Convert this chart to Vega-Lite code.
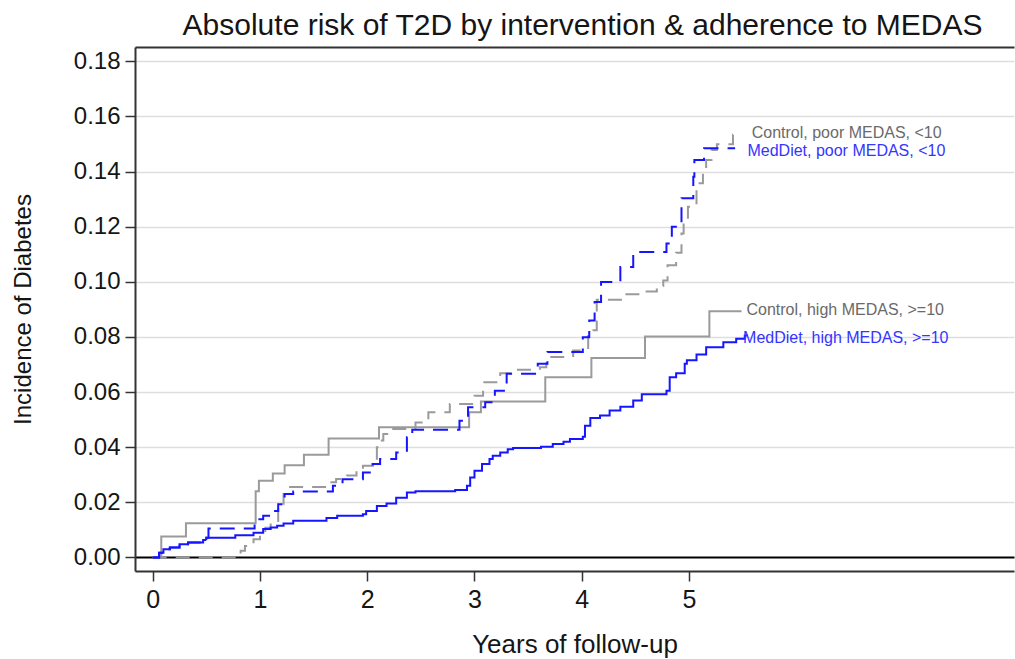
{
  "$schema": "https://vega.github.io/schema/vega-lite/v6.json",
  "width": 879,
  "height": 524,
  "autosize": {"type": "none"},
  "padding": {"left": 135, "top": 47, "right": 1, "bottom": 88},
  "background": "white",
  "config": {"view": {"stroke": null}, "font": "Liberation Sans"},
  "title": {"text": "Absolute risk of T2D by intervention & adherence to MEDAS", "fontSize": 30, "fontWeight": "normal", "color": "#151515", "anchor": "middle", "frame": "group", "offset": 6, "dx": 8, "font": "Liberation Sans"},
  "datasets": {
    "curves": [
      {"group": "Control, high MEDAS, >=10", "years": 0, "risk": 0},
      {"group": "Control, high MEDAS, >=10", "years": 0.08, "risk": 0.0076},
      {"group": "Control, high MEDAS, >=10", "years": 0.31, "risk": 0.0124},
      {"group": "Control, high MEDAS, >=10", "years": 0.96, "risk": 0.024},
      {"group": "Control, high MEDAS, >=10", "years": 0.99, "risk": 0.0278},
      {"group": "Control, high MEDAS, >=10", "years": 1.12, "risk": 0.0305},
      {"group": "Control, high MEDAS, >=10", "years": 1.23, "risk": 0.0335},
      {"group": "Control, high MEDAS, >=10", "years": 1.41, "risk": 0.0373},
      {"group": "Control, high MEDAS, >=10", "years": 1.64, "risk": 0.0432},
      {"group": "Control, high MEDAS, >=10", "years": 2.11, "risk": 0.0472},
      {"group": "Control, high MEDAS, >=10", "years": 2.95, "risk": 0.0527},
      {"group": "Control, high MEDAS, >=10", "years": 3.06, "risk": 0.0566},
      {"group": "Control, high MEDAS, >=10", "years": 3.66, "risk": 0.0654},
      {"group": "Control, high MEDAS, >=10", "years": 4.09, "risk": 0.0724},
      {"group": "Control, high MEDAS, >=10", "years": 4.59, "risk": 0.0802},
      {"group": "Control, high MEDAS, >=10", "years": 5.19, "risk": 0.0893},
      {"group": "Control, high MEDAS, >=10", "years": 5.49, "risk": 0.0893},

      {"group": "Control, poor MEDAS, <10", "years": 0, "risk": 0},
      {"group": "Control, poor MEDAS, <10", "years": 0.82, "risk": 0.0024},
      {"group": "Control, poor MEDAS, <10", "years": 0.86, "risk": 0.0042},
      {"group": "Control, poor MEDAS, <10", "years": 0.94, "risk": 0.0066},
      {"group": "Control, poor MEDAS, <10", "years": 1.0, "risk": 0.009},
      {"group": "Control, poor MEDAS, <10", "years": 1.05, "risk": 0.0108},
      {"group": "Control, poor MEDAS, <10", "years": 1.1, "risk": 0.0132},
      {"group": "Control, poor MEDAS, <10", "years": 1.17, "risk": 0.0193},
      {"group": "Control, poor MEDAS, <10", "years": 1.22, "risk": 0.023},
      {"group": "Control, poor MEDAS, <10", "years": 1.25, "risk": 0.0256},
      {"group": "Control, poor MEDAS, <10", "years": 1.65, "risk": 0.0273},
      {"group": "Control, poor MEDAS, <10", "years": 1.71, "risk": 0.0285},
      {"group": "Control, poor MEDAS, <10", "years": 1.81, "risk": 0.0297},
      {"group": "Control, poor MEDAS, <10", "years": 1.9, "risk": 0.0315},
      {"group": "Control, poor MEDAS, <10", "years": 1.96, "risk": 0.0333},
      {"group": "Control, poor MEDAS, <10", "years": 2.09, "risk": 0.04},
      {"group": "Control, poor MEDAS, <10", "years": 2.12, "risk": 0.0424},
      {"group": "Control, poor MEDAS, <10", "years": 2.15, "risk": 0.0448},
      {"group": "Control, poor MEDAS, <10", "years": 2.21, "risk": 0.0466},
      {"group": "Control, poor MEDAS, <10", "years": 2.45, "risk": 0.049},
      {"group": "Control, poor MEDAS, <10", "years": 2.57, "risk": 0.0527},
      {"group": "Control, poor MEDAS, <10", "years": 2.77, "risk": 0.0557},
      {"group": "Control, poor MEDAS, <10", "years": 3.0, "risk": 0.0587},
      {"group": "Control, poor MEDAS, <10", "years": 3.08, "risk": 0.0636},
      {"group": "Control, poor MEDAS, <10", "years": 3.24, "risk": 0.0668},
      {"group": "Control, poor MEDAS, <10", "years": 3.39, "risk": 0.0681},
      {"group": "Control, poor MEDAS, <10", "years": 3.61, "risk": 0.069},
      {"group": "Control, poor MEDAS, <10", "years": 3.67, "risk": 0.0727},
      {"group": "Control, poor MEDAS, <10", "years": 3.92, "risk": 0.0751},
      {"group": "Control, poor MEDAS, <10", "years": 4.06, "risk": 0.0824},
      {"group": "Control, poor MEDAS, <10", "years": 4.14, "risk": 0.0935},
      {"group": "Control, poor MEDAS, <10", "years": 4.4, "risk": 0.0955},
      {"group": "Control, poor MEDAS, <10", "years": 4.55, "risk": 0.0965},
      {"group": "Control, poor MEDAS, <10", "years": 4.7, "risk": 0.0985},
      {"group": "Control, poor MEDAS, <10", "years": 4.76, "risk": 0.1005},
      {"group": "Control, poor MEDAS, <10", "years": 4.8, "risk": 0.106},
      {"group": "Control, poor MEDAS, <10", "years": 4.88, "risk": 0.1105},
      {"group": "Control, poor MEDAS, <10", "years": 4.93, "risk": 0.1175},
      {"group": "Control, poor MEDAS, <10", "years": 4.95, "risk": 0.1224},
      {"group": "Control, poor MEDAS, <10", "years": 4.99, "risk": 0.1272},
      {"group": "Control, poor MEDAS, <10", "years": 5.07, "risk": 0.1357},
      {"group": "Control, poor MEDAS, <10", "years": 5.13, "risk": 0.1393},
      {"group": "Control, poor MEDAS, <10", "years": 5.16, "risk": 0.1442},
      {"group": "Control, poor MEDAS, <10", "years": 5.21, "risk": 0.1478},
      {"group": "Control, poor MEDAS, <10", "years": 5.26, "risk": 0.1499},
      {"group": "Control, poor MEDAS, <10", "years": 5.41, "risk": 0.1533},
      {"group": "Control, poor MEDAS, <10", "years": 5.49, "risk": 0.1533},

      {"group": "MedDiet, high MEDAS, >=10", "years": 0, "risk": 0},
      {"group": "MedDiet, high MEDAS, >=10", "years": 0.06, "risk": 0.0017},
      {"group": "MedDiet, high MEDAS, >=10", "years": 0.1, "risk": 0.003},
      {"group": "MedDiet, high MEDAS, >=10", "years": 0.16, "risk": 0.0036},
      {"group": "MedDiet, high MEDAS, >=10", "years": 0.25, "risk": 0.0048},
      {"group": "MedDiet, high MEDAS, >=10", "years": 0.33, "risk": 0.0054},
      {"group": "MedDiet, high MEDAS, >=10", "years": 0.47, "risk": 0.0063},
      {"group": "MedDiet, high MEDAS, >=10", "years": 0.5, "risk": 0.0072},
      {"group": "MedDiet, high MEDAS, >=10", "years": 0.77, "risk": 0.0081},
      {"group": "MedDiet, high MEDAS, >=10", "years": 0.94, "risk": 0.009},
      {"group": "MedDiet, high MEDAS, >=10", "years": 1.03, "risk": 0.0103},
      {"group": "MedDiet, high MEDAS, >=10", "years": 1.1, "risk": 0.0109},
      {"group": "MedDiet, high MEDAS, >=10", "years": 1.16, "risk": 0.0115},
      {"group": "MedDiet, high MEDAS, >=10", "years": 1.22, "risk": 0.0123},
      {"group": "MedDiet, high MEDAS, >=10", "years": 1.31, "risk": 0.0133},
      {"group": "MedDiet, high MEDAS, >=10", "years": 1.62, "risk": 0.0143},
      {"group": "MedDiet, high MEDAS, >=10", "years": 1.72, "risk": 0.0151},
      {"group": "MedDiet, high MEDAS, >=10", "years": 1.96, "risk": 0.0157},
      {"group": "MedDiet, high MEDAS, >=10", "years": 1.99, "risk": 0.0169},
      {"group": "MedDiet, high MEDAS, >=10", "years": 2.09, "risk": 0.0187},
      {"group": "MedDiet, high MEDAS, >=10", "years": 2.18, "risk": 0.0196},
      {"group": "MedDiet, high MEDAS, >=10", "years": 2.27, "risk": 0.0217},
      {"group": "MedDiet, high MEDAS, >=10", "years": 2.37, "risk": 0.0236},
      {"group": "MedDiet, high MEDAS, >=10", "years": 2.45, "risk": 0.024},
      {"group": "MedDiet, high MEDAS, >=10", "years": 2.82, "risk": 0.0245},
      {"group": "MedDiet, high MEDAS, >=10", "years": 2.93, "risk": 0.026},
      {"group": "MedDiet, high MEDAS, >=10", "years": 2.96, "risk": 0.029},
      {"group": "MedDiet, high MEDAS, >=10", "years": 3.0, "risk": 0.0315},
      {"group": "MedDiet, high MEDAS, >=10", "years": 3.07, "risk": 0.0339},
      {"group": "MedDiet, high MEDAS, >=10", "years": 3.14, "risk": 0.0357},
      {"group": "MedDiet, high MEDAS, >=10", "years": 3.17, "risk": 0.0369},
      {"group": "MedDiet, high MEDAS, >=10", "years": 3.24, "risk": 0.0381},
      {"group": "MedDiet, high MEDAS, >=10", "years": 3.31, "risk": 0.0393},
      {"group": "MedDiet, high MEDAS, >=10", "years": 3.36, "risk": 0.0397},
      {"group": "MedDiet, high MEDAS, >=10", "years": 3.62, "risk": 0.0402},
      {"group": "MedDiet, high MEDAS, >=10", "years": 3.73, "risk": 0.0412},
      {"group": "MedDiet, high MEDAS, >=10", "years": 3.83, "risk": 0.042},
      {"group": "MedDiet, high MEDAS, >=10", "years": 3.89, "risk": 0.043},
      {"group": "MedDiet, high MEDAS, >=10", "years": 4.01, "risk": 0.0438},
      {"group": "MedDiet, high MEDAS, >=10", "years": 4.03, "risk": 0.0478},
      {"group": "MedDiet, high MEDAS, >=10", "years": 4.08, "risk": 0.0506},
      {"group": "MedDiet, high MEDAS, >=10", "years": 4.17, "risk": 0.0515},
      {"group": "MedDiet, high MEDAS, >=10", "years": 4.26, "risk": 0.0533},
      {"group": "MedDiet, high MEDAS, >=10", "years": 4.36, "risk": 0.0547},
      {"group": "MedDiet, high MEDAS, >=10", "years": 4.48, "risk": 0.0569},
      {"group": "MedDiet, high MEDAS, >=10", "years": 4.56, "risk": 0.0592},
      {"group": "MedDiet, high MEDAS, >=10", "years": 4.79, "risk": 0.0605},
      {"group": "MedDiet, high MEDAS, >=10", "years": 4.82, "risk": 0.0654},
      {"group": "MedDiet, high MEDAS, >=10", "years": 4.88, "risk": 0.0668},
      {"group": "MedDiet, high MEDAS, >=10", "years": 4.96, "risk": 0.0703},
      {"group": "MedDiet, high MEDAS, >=10", "years": 4.98, "risk": 0.0715},
      {"group": "MedDiet, high MEDAS, >=10", "years": 5.07, "risk": 0.0736},
      {"group": "MedDiet, high MEDAS, >=10", "years": 5.16, "risk": 0.0763},
      {"group": "MedDiet, high MEDAS, >=10", "years": 5.32, "risk": 0.0781},
      {"group": "MedDiet, high MEDAS, >=10", "years": 5.44, "risk": 0.0793},
      {"group": "MedDiet, high MEDAS, >=10", "years": 5.52, "risk": 0.0805},
      {"group": "MedDiet, high MEDAS, >=10", "years": 5.55, "risk": 0.0805},

      {"group": "MedDiet, poor MEDAS, <10", "years": 0, "risk": 0},
      {"group": "MedDiet, poor MEDAS, <10", "years": 0.06, "risk": 0.0017},
      {"group": "MedDiet, poor MEDAS, <10", "years": 0.1, "risk": 0.003},
      {"group": "MedDiet, poor MEDAS, <10", "years": 0.16, "risk": 0.0036},
      {"group": "MedDiet, poor MEDAS, <10", "years": 0.25, "risk": 0.0048},
      {"group": "MedDiet, poor MEDAS, <10", "years": 0.33, "risk": 0.0054},
      {"group": "MedDiet, poor MEDAS, <10", "years": 0.5, "risk": 0.0072},
      {"group": "MedDiet, poor MEDAS, <10", "years": 0.52, "risk": 0.0105},
      {"group": "MedDiet, poor MEDAS, <10", "years": 0.95, "risk": 0.0139},
      {"group": "MedDiet, poor MEDAS, <10", "years": 1.03, "risk": 0.0151},
      {"group": "MedDiet, poor MEDAS, <10", "years": 1.12, "risk": 0.0169},
      {"group": "MedDiet, poor MEDAS, <10", "years": 1.17, "risk": 0.0193},
      {"group": "MedDiet, poor MEDAS, <10", "years": 1.23, "risk": 0.023},
      {"group": "MedDiet, poor MEDAS, <10", "years": 1.31, "risk": 0.0239},
      {"group": "MedDiet, poor MEDAS, <10", "years": 1.68, "risk": 0.026},
      {"group": "MedDiet, poor MEDAS, <10", "years": 1.77, "risk": 0.0284},
      {"group": "MedDiet, poor MEDAS, <10", "years": 1.96, "risk": 0.0308},
      {"group": "MedDiet, poor MEDAS, <10", "years": 2.05, "risk": 0.0339},
      {"group": "MedDiet, poor MEDAS, <10", "years": 2.12, "risk": 0.0357},
      {"group": "MedDiet, poor MEDAS, <10", "years": 2.27, "risk": 0.0381},
      {"group": "MedDiet, poor MEDAS, <10", "years": 2.37, "risk": 0.0436},
      {"group": "MedDiet, poor MEDAS, <10", "years": 2.42, "risk": 0.0463},
      {"group": "MedDiet, poor MEDAS, <10", "years": 2.86, "risk": 0.0496},
      {"group": "MedDiet, poor MEDAS, <10", "years": 2.94, "risk": 0.0545},
      {"group": "MedDiet, poor MEDAS, <10", "years": 3.1, "risk": 0.0563},
      {"group": "MedDiet, poor MEDAS, <10", "years": 3.19, "risk": 0.0605},
      {"group": "MedDiet, poor MEDAS, <10", "years": 3.3, "risk": 0.0666},
      {"group": "MedDiet, poor MEDAS, <10", "years": 3.59, "risk": 0.0703},
      {"group": "MedDiet, poor MEDAS, <10", "years": 3.68, "risk": 0.0745},
      {"group": "MedDiet, poor MEDAS, <10", "years": 4.01, "risk": 0.0799},
      {"group": "MedDiet, poor MEDAS, <10", "years": 4.07, "risk": 0.086},
      {"group": "MedDiet, poor MEDAS, <10", "years": 4.12, "risk": 0.0927},
      {"group": "MedDiet, poor MEDAS, <10", "years": 4.18, "risk": 0.0999},
      {"group": "MedDiet, poor MEDAS, <10", "years": 4.36, "risk": 0.1054},
      {"group": "MedDiet, poor MEDAS, <10", "years": 4.48, "risk": 0.1108},
      {"group": "MedDiet, poor MEDAS, <10", "years": 4.79, "risk": 0.1139},
      {"group": "MedDiet, poor MEDAS, <10", "years": 4.84, "risk": 0.12},
      {"group": "MedDiet, poor MEDAS, <10", "years": 4.93, "risk": 0.1303},
      {"group": "MedDiet, poor MEDAS, <10", "years": 5.04, "risk": 0.1381},
      {"group": "MedDiet, poor MEDAS, <10", "years": 5.05, "risk": 0.1442},
      {"group": "MedDiet, poor MEDAS, <10", "years": 5.14, "risk": 0.1484},
      {"group": "MedDiet, poor MEDAS, <10", "years": 5.43, "risk": 0.1484}
    ],
    "labels": [
      {"group": "Control, poor MEDAS, <10", "years": 5.585, "risk": 0.1539},
      {"group": "MedDiet, poor MEDAS, <10", "years": 5.545, "risk": 0.1476},
      {"group": "Control, high MEDAS, >=10", "years": 5.536, "risk": 0.0896},
      {"group": "MedDiet, high MEDAS, >=10", "years": 5.504, "risk": 0.0796}
    ]
  },
  "resolve": {"scale": {"color": "independent"}},
  "layer": [
    {
      "data": {"name": "curves"},
      "mark": {"type": "line", "interpolate": "step-after", "strokeCap": "butt"},
      "encoding": {
        "x": {
          "field": "years", "type": "quantitative",
          "scale": {"domain": [-0.165, 8.03], "nice": false, "zero": false},
          "axis": {
            "orient": "bottom", "values": [0, 1, 2, 3, 4, 5], "format": "d",
            "grid": false, "domainColor": "#333", "domainWidth": 2,
            "tickColor": "#333", "tickWidth": 1.5, "tickSize": 10,
            "labelFontSize": 25, "labelColor": "#151515", "labelPadding": 6, "labelFont": "Liberation Sans",
            "title": "Years of follow-up", "titleFontSize": 26, "titleFontWeight": "normal",
            "titleColor": "#151515", "titlePadding": 19, "titleFont": "Liberation Sans"
          }
        },
        "y": {
          "field": "risk", "type": "quantitative",
          "scale": {"domain": [-0.0049, 0.18516], "nice": false, "zero": false},
          "axis": {
            "values": [0, 0.02, 0.04, 0.06, 0.08, 0.1, 0.12, 0.14, 0.16, 0.18], "format": ".2f",
            "grid": true,
            "gridColor": {"condition": {"test": "datum.value === 0", "value": "#000000"}, "value": "#dedede"},
            "gridWidth": {"condition": {"test": "datum.value === 0", "value": 2}, "value": 1.5},
            "domainColor": "#333", "domainWidth": 2,
            "tickColor": "#333", "tickWidth": 1.5, "tickSize": 10,
            "labelFontSize": 24, "labelColor": "#151515", "labelPadding": 5, "labelFont": "Liberation Sans",
            "title": "Incidence of Diabetes", "titleFontSize": 24, "titleFontWeight": "normal",
            "titleColor": "#151515", "titlePadding": 38, "titleFont": "Liberation Sans"
          }
        },
        "color": {
          "field": "group", "type": "nominal", "legend": null,
          "scale": {
            "domain": ["Control, high MEDAS, >=10", "Control, poor MEDAS, <10", "MedDiet, high MEDAS, >=10", "MedDiet, poor MEDAS, <10"],
            "range": ["#9a9a9a", "#9a9a9a", "#1515ff", "#1515ff"]
          }
        },
        "strokeDash": {
          "field": "group", "type": "nominal", "legend": null,
          "scale": {
            "domain": ["Control, high MEDAS, >=10", "Control, poor MEDAS, <10", "MedDiet, high MEDAS, >=10", "MedDiet, poor MEDAS, <10"],
            "range": [[1, 0], [14, 9], [1, 0], [15, 9]]
          }
        },
        "strokeWidth": {
          "field": "group", "type": "nominal", "legend": null,
          "scale": {
            "domain": ["Control, high MEDAS, >=10", "Control, poor MEDAS, <10", "MedDiet, high MEDAS, >=10", "MedDiet, poor MEDAS, <10"],
            "range": [2, 2, 2.5, 3.2]
          }
        }
      }
    },
    {
      "data": {"name": "labels"},
      "mark": {"type": "text", "align": "left", "baseline": "middle", "fontSize": 16, "font": "Liberation Sans"},
      "encoding": {
        "x": {
          "field": "years", "type": "quantitative",
          "axis": {"orient": "top", "labels": false, "ticks": false, "title": null, "grid": false, "domainColor": "#333", "domainWidth": 2}
        },
        "y": {"field": "risk", "type": "quantitative"},
        "text": {"field": "group"},
        "color": {
          "field": "group", "type": "nominal", "legend": null,
          "scale": {
            "domain": ["Control, high MEDAS, >=10", "Control, poor MEDAS, <10", "MedDiet, high MEDAS, >=10", "MedDiet, poor MEDAS, <10"],
            "range": ["#6a6a6a", "#6a6a6a", "#3535ff", "#3535ff"]
          }
        }
      }
    }
  ]
}
